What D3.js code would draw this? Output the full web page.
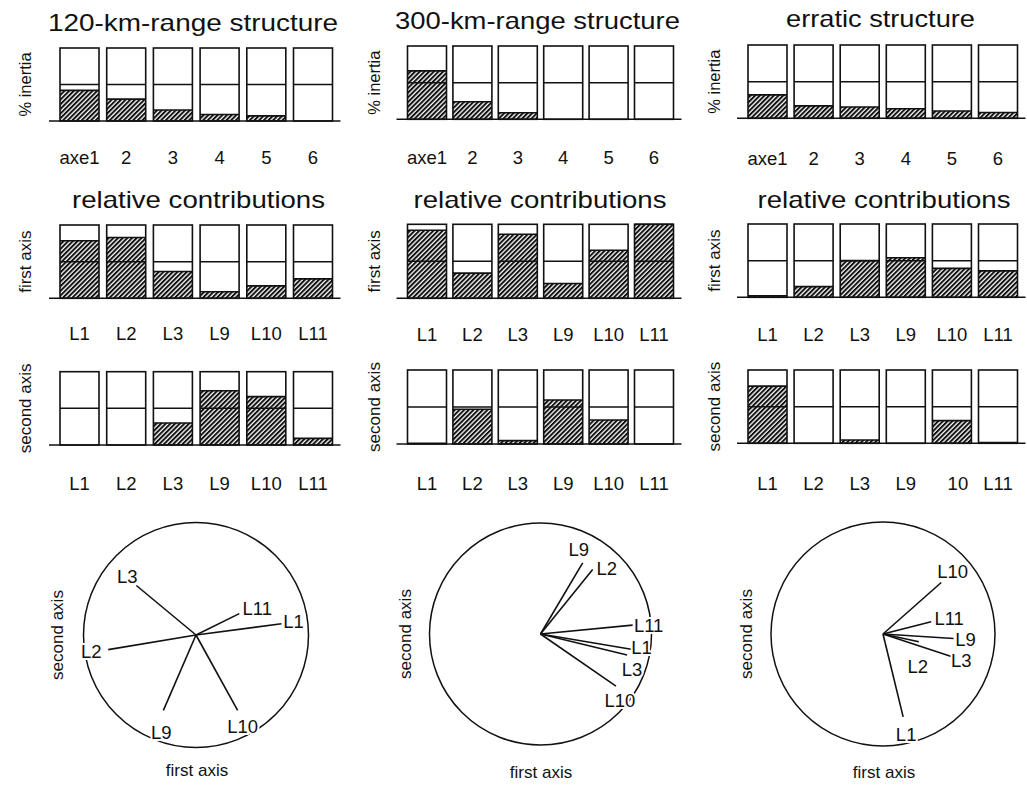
<!DOCTYPE html>
<html>
<head>
<meta charset="utf-8">
<script src="https://cdn.jsdelivr.net/npm/d3@7"></script>
<style>
  body { margin: 0; background: #fff; }
  svg { display: block; font-family: "Liberation Sans", Arial, Helvetica, sans-serif; }
</style>
</head>
<body>
<svg id="fig" width="1027" height="787"></svg>
<script>
// ---- data -------------------------------------------------------------
const axisCats = ["axe1", "2", "3", "4", "5", "6"];
const lineCats = ["L1", "L2", "L3", "L9", "L10", "L11"];
const lineTicksA = ["L1", "L2", "L3", "L9", "L10", "L11"];
const lineTicksErratic = ["L1", "L2", "L3", "L9", "10", "L11"];

const titles = ["120-km-range structure", "300-km-range structure", "erratic structure"];
const subTitle = "relative contributions";

// share of inertia carried by each factorial axis
const inertia120 = [0.42, 0.30, 0.15, 0.09, 0.07, 0.0];
const inertia300 = [0.66, 0.24, 0.09, 0.0, 0.0, 0.0];
const inertiaErr = [0.32, 0.17, 0.155, 0.13, 0.10, 0.08];

// relative contributions of the lines to the first and second axes
const first120 = [0.785, 0.83, 0.365, 0.09, 0.17, 0.265];
const second120 = [0.0, 0.0, 0.30, 0.74, 0.66, 0.09];
const first300 = [0.92, 0.34, 0.865, 0.20, 0.65, 1.0];
const second300 = [0.01, 0.47, 0.045, 0.595, 0.325, 0.0];
const firstErr = [0.02, 0.145, 0.50, 0.54, 0.395, 0.36];
const secondErr = [0.78, 0.0, 0.045, 0.0, 0.31, 0.01];

// correlation circle coordinates (first axis, second axis)
const circle120 = [[0.76, 0.10], [-0.78, -0.13], [-0.53, 0.44], [-0.29, -0.67], [0.37, -0.67], [0.385, 0.19]];
const circle300 = [[0.83, -0.14], [0.47, 0.58], [0.78, -0.19], [0.38, 0.64], [0.68, -0.47], [0.83, 0.08]];
const circleErr = [[0.18, -0.74], [0.32, -0.07], [0.61, -0.20], [0.63, -0.04], [0.52, 0.46], [0.43, 0.11]];

// ---- layout -----------------------------------------------------------
const panels = [
  { x0: 60, step: 46.7, bw: 39, title: titles[0], titleX: 193, titleW: 290, titleY: 31,
    relX: 198.5, sideX: 31,
    rows: [[48, 121], [225, 298.3], [371.7, 445]],
    tickY: [164, 340, 490],
    inertia: inertia120, first: first120, second: second120, ticks3: lineTicksA,
    circ: { cx: 196, cy: 635, r: 112.5, labX: 63, firstX: 197, firstY: 776 }, vec: circle120,
    nudge: [[12, -2], [-17, 2], [-9, -9], [-2, 22], [5, 16], [18, -5]] },
  { x0: 407.5, step: 45.4, bw: 39, title: titles[1], titleX: 537.5, titleW: 285, titleY: 29,
    relX: 540, sideX: 380,
    rows: [[46, 119.3], [224.3, 298.3], [370, 444]],
    tickY: [164, 341, 490],
    inertia: inertia300, first: first300, second: second300, ticks3: lineTicksA,
    circ: { cx: 540.5, cy: 634, r: 111, labX: 411, firstX: 541, firstY: 778 }, vec: circle300,
    nudge: [[9, -2.5], [14, -1], [5, 14], [-4, -14], [4, 14], [16, 0]] },
  { x0: 748, step: 46.1, bw: 39, title: titles[2], titleX: 880.5, titleW: 189, titleY: 27,
    relX: 884, sideX: 720,
    rows: [[45, 118.3], [224, 297.3], [370, 443.3]],
    tickY: [165, 341, 490],
    inertia: inertiaErr, first: firstErr, second: secondErr, ticks3: lineTicksErratic,
    circ: { cx: 883, cy: 634, r: 112, labX: 752, firstX: 884, firstY: 778 }, vec: circleErr,
    nudge: [[3, 17], [-1, 24], [10, 4], [12, 1], [11.5, -11], [18, -3]] }
];

const svg = d3.select("#fig");
svg.append("rect").attr("width", 1027).attr("height", 787).attr("fill", "#fff");

// diagonal hatching used for the filled part of each bar
const defs = svg.append("defs");
const pat = defs.append("pattern")
  .attr("id", "hatch")
  .attr("patternUnits", "userSpaceOnUse")
  .attr("width", 3.3).attr("height", 3.3)
  .attr("patternTransform", "rotate(45)");
pat.append("rect").attr("width", 3.3).attr("height", 3.3).attr("fill", "#fff");
pat.append("line").attr("x1", 1).attr("y1", 0).attr("x2", 1).attr("y2", 3.3)
  .attr("stroke", "#111").attr("stroke-width", 2);

const INK = "#111";

function barRow(g, cats, ticks, values, p, row, tickY, tickNudge) {
  const [top, base] = p.rows[row];
  const x = d3.scaleBand()
    .domain(cats)
    .range([p.x0, p.x0 + 5 * p.step + p.bw])
    .paddingInner((p.step - p.bw) / p.step)
    .paddingOuter(0);
  const y = d3.scaleLinear().domain([0, 1]).range([base, top]);

  const rows = cats.map((c, i) => ({ cat: c, value: values[i], tick: ticks[i] }));

  const bars = g.append("g").selectAll("g").data(rows).join("g");
  bars.append("rect")
    .attr("x", d => x(d.cat)).attr("y", y(1))
    .attr("width", x.bandwidth()).attr("height", y(0) - y(1))
    .attr("fill", "#fff");
  bars.append("rect")
    .attr("x", d => x(d.cat)).attr("y", d => y(d.value))
    .attr("width", x.bandwidth()).attr("height", d => y(0) - y(d.value))
    .attr("fill", "url(#hatch)");
  bars.filter(d => d.value > 0.005).append("line")
    .attr("x1", d => x(d.cat)).attr("x2", d => x(d.cat) + x.bandwidth())
    .attr("y1", d => y(d.value)).attr("y2", d => y(d.value))
    .attr("stroke", INK).attr("stroke-width", 1.6);
  bars.append("line")
    .attr("x1", d => x(d.cat)).attr("x2", d => x(d.cat) + x.bandwidth())
    .attr("y1", y(0.5)).attr("y2", y(0.5))
    .attr("stroke", INK).attr("stroke-width", 1.5);
  bars.append("rect")
    .attr("x", d => x(d.cat)).attr("y", y(1))
    .attr("width", x.bandwidth()).attr("height", y(0) - y(1))
    .attr("fill", "none").attr("stroke", INK).attr("stroke-width", 1.6);

  // ground line under the row
  g.append("line")
    .attr("x1", p.x0 - 11).attr("x2", p.x0 + 5 * p.step + p.bw + 8)
    .attr("y1", y(0)).attr("y2", y(0))
    .attr("stroke", INK).attr("stroke-width", 1.6);

  // category labels
  g.append("g").selectAll("text").data(rows).join("text")
    .attr("x", d => x(d.cat) + x.bandwidth() / 2 + (tickNudge ? tickNudge(d.tick) : 0))
    .attr("y", tickY)
    .attr("text-anchor", "middle")
    .attr("font-size", 18.5)
    .attr("fill", INK)
    .text(d => d.tick);
}

function sideLabel(g, text, x, yMid, size) {
  g.append("text")
    .attr("transform", `translate(${x},${yMid}) rotate(-90)`)
    .attr("text-anchor", "middle")
    .attr("font-size", size)
    .attr("fill", INK)
    .text(text);
}

panels.forEach(p => {
  const g = svg.append("g");

  // headings
  g.append("text")
    .attr("x", p.titleX).attr("y", p.titleY)
    .attr("text-anchor", "middle")
    .attr("font-size", 24)
    .attr("textLength", p.titleW).attr("lengthAdjust", "spacingAndGlyphs")
    .attr("fill", INK)
    .text(p.title);
  g.append("text")
    .attr("x", p.relX).attr("y", 208)
    .attr("text-anchor", "middle")
    .attr("font-size", 24)
    .attr("textLength", 253).attr("lengthAdjust", "spacingAndGlyphs")
    .attr("fill", INK)
    .text(subTitle);

  // bar rows
  barRow(g, axisCats, axisCats, p.inertia, p, 0, p.tickY[0]);
  barRow(g, lineCats, lineTicksA, p.first, p, 1, p.tickY[1]);
  barRow(g, lineCats, p.ticks3, p.second, p, 2, p.tickY[2], t => (t === "10" ? 6 : 0));

  sideLabel(g, "% inertia", p.sideX, (p.rows[0][0] + p.rows[0][1]) / 2, 16.5);
  sideLabel(g, "first axis", p.sideX, (p.rows[1][0] + p.rows[1][1]) / 2, 17);
  sideLabel(g, "second axis", p.sideX, (p.rows[2][0] + p.rows[2][1]) / 2, 17);

  // correlation circle
  const c = p.circ;
  const cx = d3.scaleLinear().domain([-1, 1]).range([c.cx - c.r, c.cx + c.r]);
  const cy = d3.scaleLinear().domain([-1, 1]).range([c.cy + c.r, c.cy - c.r]);
  g.append("circle")
    .attr("cx", cx(0)).attr("cy", cy(0)).attr("r", cx(1) - cx(0))
    .attr("fill", "none").attr("stroke", INK).attr("stroke-width", 1.5);
  g.append("g").selectAll("line").data(p.vec).join("line")
    .attr("x1", cx(0)).attr("y1", cy(0))
    .attr("x2", d => cx(d[0])).attr("y2", d => cy(d[1]))
    .attr("stroke", INK).attr("stroke-width", 1.6);
  g.append("g").selectAll("text").data(p.vec).join("text")
    .attr("x", (d, i) => cx(d[0]) + p.nudge[i][0])
    .attr("y", (d, i) => cy(d[1]) + p.nudge[i][1])
    .attr("dy", "0.36em")
    .attr("text-anchor", "middle")
    .attr("font-size", 18.5)
    .attr("fill", INK)
    .attr("stroke", "#fff").attr("stroke-width", 4)
    .attr("paint-order", "stroke")
    .text((d, i) => lineCats[i]);

  sideLabel(g, "second axis", c.labX, c.cy, 17);
  g.append("text")
    .attr("x", c.firstX).attr("y", c.firstY)
    .attr("text-anchor", "middle")
    .attr("font-size", 17)
    .attr("fill", INK)
    .text("first axis");
});
</script>
</body>
</html>
